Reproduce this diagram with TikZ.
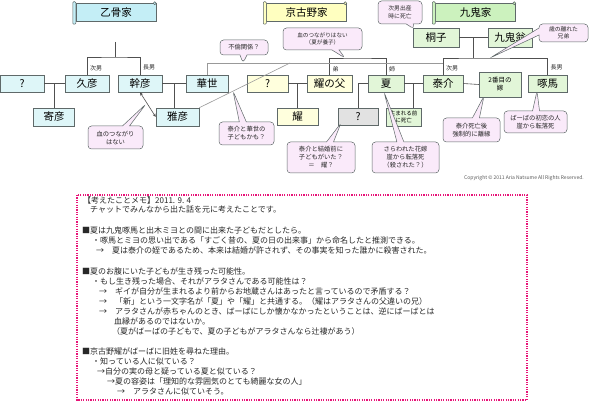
\documentclass[tikz,border=0pt]{standalone}
\usepackage{fontspec}
\setmainfont{Noto Sans CJK JP}
\usetikzlibrary{shapes.callouts,arrows.meta,calc}
\definecolor{cyanF}{RGB}{222,246,248}
\definecolor{cyanB}{RGB}{196,238,246}
\definecolor{yelF}{RGB}{255,255,221}
\definecolor{yelB}{RGB}{255,255,192}
\definecolor{grnF}{RGB}{226,246,216}
\definecolor{grnB}{RGB}{204,242,190}
\definecolor{grayF}{RGB}{226,226,226}
\definecolor{bubF}{RGB}{250,234,250}
\definecolor{edge}{RGB}{95,105,105}
\definecolor{lineC}{RGB}{80,80,80}
\definecolor{memoC}{RGB}{232,20,120}
\definecolor{txt}{RGB}{40,40,40}
\begin{document}
\begin{tikzpicture}[x=1pt,y=-1pt,
  fambox/.style={draw=edge, line width=0.5pt, inner sep=0pt, minimum height=17, text=black, font=\fontsize{10.5}{12}\selectfont},
  cyanbox/.style={fambox, fill=cyanF},
  yelbox/.style={fambox, fill=yelF},
  grnbox/.style={fambox, fill=grnF},
  graybox/.style={fambox, fill=grayF},
  banner/.style={draw=edge, line width=0.5pt, inner sep=0pt, minimum height=18, minimum width=80, text=black, font=\fontsize{10.5}{12}\selectfont},
  conn/.style={draw=lineC, line width=0.6pt},
  affair/.style={draw=black!40, line width=0.6pt},
  rel/.style={font=\fontsize{6}{7}\selectfont, text=txt, inner sep=0pt, anchor=west},
  bubble/.style={rectangle callout, rounded corners=3.5pt, draw=edge, fill=bubF, line width=0.5pt, inner sep=1pt, align=center, text=txt, font=\fontsize{6.3}{8}\selectfont, callout pointer width=7pt},
  memo/.style={anchor=west, inner sep=0pt, text=txt, font=\fontsize{8}{10}\selectfont}
]
\fill[white] (0,0) rectangle (600,403);
\useasboundingbox (0,0) rectangle (600,403);

% banners
\node[banner, fill=cyanB] (otsu) at (116,12.5) {乙骨家};
\node[banner, fill=yelB] (kyo) at (306.5,12.5) {京古野家};
\node[banner, fill=grnB] (kuki) at (475.5,12.5) {九鬼家};
\foreach \b/\c in {otsu/cyanB, kyo/yelB, kuki/grnB}{
  \draw[edge, line width=0.5pt, fill=\c, rounded corners=1pt] ([xshift=-3pt,yshift=1.5pt]\b.north west) rectangle ([yshift=-2.5pt]\b.south west);
  \draw[edge, line width=0.5pt, fill=\c] ([xshift=-1.5pt]\b.north east) circle (1.5pt);
}

% row 1
\node[cyanbox, minimum width=44] (q1) at (22,83.5) {?};
\node[cyanbox, minimum width=44] (hisa) at (87,83.5) {久彦};
\node[cyanbox, minimum width=44] (miki) at (140,83.5) {幹彦};
\node[cyanbox, minimum width=42] (kase) at (207,83.5) {華世};
\node[yelbox, minimum width=41] (q2) at (267.5,83.5) {?};
\node[yelbox, minimum width=45] (yofu) at (329.5,83.5) {耀の父};
\node[grnbox, minimum width=36] (natsu) at (386,83.5) {夏};
\node[grnbox, minimum width=40] (tai) at (443,83.5) {泰介};
\node[grnbox, minimum width=42, minimum height=25, align=center, font=\fontsize{6.5}{8}\selectfont] (yome) at (500,84.5) {2番目の\\嫁};
\node[grnbox, minimum width=39] (taku) at (547.5,83.5) {啄馬};

% kuki parents
\node[grnbox, minimum width=46, minimum height=19] (kiri) at (436,37.5) {桐子};
\node[grnbox, minimum width=44, minimum height=19] (okina) at (510,37.5) {九鬼翁};

% row 2
\node[cyanbox, minimum width=41, minimum height=18] (kise) at (54,117) {寄彦};
\node[cyanbox, minimum width=43, minimum height=18] (masa) at (177.5,117) {雅彦};
\node[yelbox, minimum width=41] (you) at (297.5,116.5) {耀};
\node[graybox, minimum width=40] (q3) at (358,116.5) {?};
\node[grnbox, minimum width=35, minimum height=18, align=center, font=\fontsize{5.5}{6.5}\selectfont] (umare) at (403.5,117) {生まれる前\\に死亡};

% otsukotsu connectors
\coordinate (otop) at (115,42);
\coordinate (obar) at (115,57);
\draw[conn] (otop) -- (obar);
\draw[conn] (hisa.north) |- (obar) -| (miki.north);
\draw[conn] (q1.east) -- (hisa.west);
\draw[conn] (kise.north) -- (kise.north |- q1.east);
\draw[conn] (miki.east) -- (kase.west);
\coordinate (mk) at ($(miki.east)!0.5!(kase.west)$);
\draw[conn] (mk) -- (mk |- masa.north);

% kyogokuno connectors
\draw[conn] (q2.east) -- (yofu.west);
\draw[conn] (you.north) -- (you.north |- q2.east);
\coordinate (kbar) at (357,58);
\draw[conn] (yofu.north) |- (kbar) -| (natsu.north);
\draw[conn] (natsu.west) -| (q3.north);

% kuki connectors
\draw[conn] (natsu.east) -- (tai.west);
\coordinate (nt) at ($(natsu.east)!0.5!(tai.west)$);
\draw[conn] (nt) -- (nt |- umare.north);
\draw[conn] (tai.east) -- (yome.west);
\draw[conn] (kiri.east) -- (okina.west);
\coordinate (kk) at ($(kiri.east)!0.5!(okina.west)$);
\coordinate (kbar2) at (kk |- kbar);
\draw[conn] (kk) -- (kbar2);
\draw[conn] (tai.north) |- (kbar2) -| (taku.north);

% affair lines
\coordinate (afy) at (0,63);
\draw[affair] (kase.north) |- (tai.north |- afy);
\coordinate (afd) at (290,63);
\draw[affair] (afd) -- (masa.north east);

% double arrow
\draw[conn, {Stealth[length=3.5pt,width=3pt]}-{Stealth[length=3.5pt,width=3pt]}] (miki.south) -- (masa.west);

% relation labels
\node[rel] at ($(hisa.north)+(3,-7)$) {次男};
\node[rel] at ($(miki.north)+(3,-7)$) {長男};
\node[rel] at ($(yofu.north)+(3,-6)$) {弟};
\node[rel] at ($(natsu.north)+(3,-6)$) {姉};
\node[rel] at ($(tai.north)+(3,-7)$) {次男};
\node[rel] at ($(taku.north)+(3,-7)$) {長男};

% bubbles
\node[bubble, minimum width=55, minimum height=23, callout absolute pointer={(146,104)}] (b1) at (115.5,137.5) {血のつながり\\はない};
\node[bubble, minimum width=55, minimum height=23, callout absolute pointer={(233,91)}] (b2) at (246.5,133.5) {泰介と華世の\\子どもかも？};
\node[bubble, minimum width=48, minimum height=15, callout absolute pointer={(243,63)}] (b3) at (244,47.5) {不倫関係？};
\node[bubble, minimum width=79, minimum height=22, font=\fontsize{5.6}{7.5}\selectfont, callout absolute pointer={(345,58)}] (b4) at (322.5,39) {血のつながりはない\\（夏が養子）};
\node[bubble, minimum width=68, minimum height=31, callout absolute pointer={(341,123)}] (b5) at (321,157.5) {泰介と結婚前に\\子どもがいた？\\＝　耀？};
\node[bubble, minimum width=44, minimum height=23, font=\fontsize{5.8}{7.5}\selectfont, callout absolute pointer={(414,29)}] (b6) at (400,12.5) {次男出産\\時に死亡};
\node[bubble, minimum width=49, minimum height=18, font=\fontsize{5.8}{7.5}\selectfont, callout absolute pointer={(490,58)}] (b7) at (563.5,33) {歳の離れた\\兄弟};
\node[bubble, minimum width=57, minimum height=24, callout absolute pointer={(484,96)}] (b8) at (471.5,130) {泰介死亡後\\強制的に離縁};
\node[bubble, minimum width=63, minimum height=22, callout absolute pointer={(537,91)}] (b9) at (535.5,122) {ばーばの初恋の人\\崖から転落死};
\node[bubble, minimum width=67, minimum height=31, callout absolute pointer={(384,92)}] (b10) at (405.5,157.5) {さらわれた花嫁\\崖から転落死\\（殺された？）};

% copyright
\node[anchor=base east, inner sep=0pt, text=black!65, font=\fontsize{5}{6}\selectfont] (copy) at (584,180) {Copyright © 2011 Aria Natsume All Rights Reserved.};

% memo
\draw[memoC, line width=1.4pt, dash pattern=on 1.2pt off 1.2pt] (77,195) rectangle (527,400);
\node[memo] (m1) at (83,200) {【考えたことメモ】2011. 9. 4};
\node[memo] (m2) at (90,210) {チャットでみんなから出た話を元に考えたことです。};
\node[memo] (m3) at (82,230) {■夏は九鬼啄馬と出木ミヨとの間に出来た子どもだとしたら。};
\node[memo] (m4) at (92,240) {・啄馬とミヨの思い出である「すごく昔の、夏の日の出来事」から命名したと推測できる。};
\node[memo] (m5) at (96,250) {→　夏は泰介の姪であるため、本来は結婚が許されず、その事実を知った誰かに殺害された。};
\node[memo] (m6) at (82,271) {■夏のお腹にいた子どもが生き残った可能性。};
\node[memo] (m7) at (92,281) {・もし生き残った場合、それがアラタさんである可能性は？};
\node[memo] (m8) at (99,291) {→　ギイが自分が生まれるより前からお地蔵さんはあったと言っているので矛盾する？};
\node[memo] (m9) at (99,301) {→　「新」という一文字名が「夏」や「耀」と共通する。（耀はアラタさんの父違いの兄）};
\node[memo] (m10) at (99,311) {→　アラタさんが赤ちゃんのとき、ばーばにしか懐かなかったということは、逆にばーばとは};
\node[memo] (m11) at (114,321) {血縁があるのではないか。};
\node[memo] (m12) at (112,331) {（夏がばーばの子どもで、夏の子どもがアラタさんなら辻褄があう）};
\node[memo] (m13) at (82,351) {■京古野耀がばーばに旧姓を尋ねた理由。};
\node[memo] (m14) at (92,361) {・知っている人に似ている？};
\node[memo] (m15) at (97,371) {→自分の実の母と疑っている夏と似ている？};
\node[memo] (m16) at (107,381) {→夏の容姿は「理知的な雰囲気のとても綺麗な女の人」};
\node[memo] (m17) at (117,392) {→　アラタさんに似ていそう。};
\end{tikzpicture}
\end{document}
